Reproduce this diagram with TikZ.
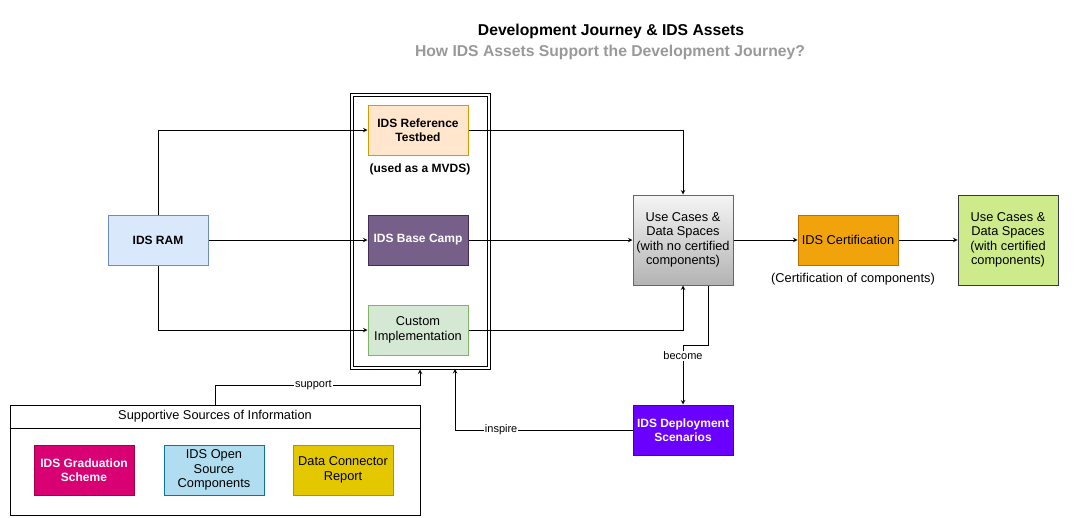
\documentclass[tikz,border=0pt]{standalone}
\usepackage{fontspec}
\setmainfont{Liberation Sans}
\usepackage{tikz}
\usepackage{xcolor}
\usetikzlibrary{positioning, arrows}

\definecolor{ramfill}{HTML}{DAE8FC}
\definecolor{ramdraw}{HTML}{6C8EBF}
\definecolor{tbfill}{HTML}{FFE6CC}
\definecolor{tbdraw}{HTML}{D79B00}
\definecolor{bcfill}{HTML}{76608A}
\definecolor{bcdraw}{HTML}{432D57}
\definecolor{cifill}{HTML}{D5E8D4}
\definecolor{cidraw}{HTML}{82B366}
\definecolor{uctop}{HTML}{F5F5F5}
\definecolor{ucbot}{HTML}{B3B3B3}
\definecolor{ucdraw}{HTML}{666666}
\definecolor{certfill}{HTML}{F0A30A}
\definecolor{certdraw}{HTML}{BD7000}
\definecolor{okfill}{HTML}{CDEB8B}
\definecolor{okdraw}{HTML}{36393D}
\definecolor{depfill}{HTML}{6A00FF}
\definecolor{depdraw}{HTML}{3700CC}
\definecolor{gradfill}{HTML}{D80073}
\definecolor{graddraw}{HTML}{A50040}
\definecolor{osfill}{HTML}{B1DDF0}
\definecolor{osdraw}{HTML}{10739E}
\definecolor{dcfill}{HTML}{E3C800}
\definecolor{dcdraw}{HTML}{B09500}
\definecolor{subgray}{HTML}{999999}

\tikzset{
    box/.style={rectangle, draw, line width=1pt, align=center, inner sep=1pt,
        minimum width=100pt, minimum height=50pt, font=\fontsize{12.8}{14.4}\selectfont},
    boldbox/.style={box, font=\fontsize{12}{14.4}\selectfont\bfseries},
    lbl/.style={fill=white, inner sep=1pt, font=\fontsize{11}{13}\selectfont},
    conn/.style={-stealth, line width=1pt}
}

\begin{document}
\begin{tikzpicture}[x=1pt, y=-1pt]
                    \useasboundingbox (0, 0) rectangle (1078, 517);

                    \node[font=\fontsize{15.7}{18}\selectfont\bfseries] (title) at (611, 31) {Development Journey \& IDS Assets};
                    \node[font=\fontsize{15.7}{18}\selectfont\bfseries, text=subgray] (subtitle) at (610, 52) {How IDS Assets Support the Development Journey?};

                    % double framed group
                    \node[draw, line width=1pt, inner sep=0pt, minimum width=140pt, minimum height=276pt] (container) at (420, 231) {};
                    \node[draw, line width=1pt, inner sep=0pt, minimum width=134pt, minimum height=270pt] (containerin) at (420, 231) {};

                    \node[boldbox, fill=ramfill, draw=ramdraw] (ram) at (158, 240) {IDS RAM};
                    \node[boldbox, fill=tbfill, draw=tbdraw] (testbed) at (418, 130) {IDS Reference\\Testbed};
                    \node[font=\fontsize{12}{14}\selectfont\bfseries] (mvds) at (420, 169) {(used as a MVDS)};
                    \node[boldbox, fill=bcfill, draw=bcdraw, text=white] (basecamp) at (418, 240) {IDS Base Camp};
                    \node[box, fill=cifill, draw=cidraw] (custom) at (418, 330) {Custom\\Implementation};
                    \node[box, top color=uctop, bottom color=ucbot, draw=ucdraw, minimum height=90pt] (usecases) at (683, 240) {Use Cases \&\\Data Spaces\\(with no certified\\components)};
                    \node[box, fill=certfill, draw=certdraw] (cert) at (848, 240) {IDS Certification};
                    \node[font=\fontsize{12.8}{14.4}\selectfont] (certnote) at (853, 279) {(Certification of components)};
                    \node[box, fill=okfill, draw=okdraw, minimum height=90pt] (certified) at (1008, 240) {Use Cases \&\\Data Spaces\\(with certified\\components)};
                    \node[boldbox, fill=depfill, draw=depdraw, text=white] (deploy) at (683, 430) {IDS Deployment\\Scenarios};

                    % supportive sources swimlane
                    \node[draw, line width=1pt, minimum width=410pt, minimum height=110pt] (sources) at (215, 460) {};
                    \node[draw, line width=1pt, minimum width=410pt, minimum height=23pt, font=\fontsize{12.8}{14.4}\selectfont] (sourcestitle) at (215, 416.5) {\raisebox{-1.5pt}{Supportive Sources of Information}};
                    \node[boldbox, fill=gradfill, draw=graddraw, text=white] (graduation) at (84, 470) {IDS Graduation\\Scheme};
                    \node[box, fill=osfill, draw=osdraw] (opensource) at (214, 470) {IDS Open\\Source\\Components};
                    \node[box, fill=dcfill, draw=dcdraw] (connector) at (343, 470) {Data Connector\\Report};

                    \coordinate (becomebend) at (683, 345);
                    \coordinate (supportbend) at (420, 385);
                    \coordinate (inspireend) at (455, 369);

                    \draw[conn] (ram.north) |- (testbed.west);
                    \draw[conn] (ram) -- (basecamp);
                    \draw[conn] (ram.south) |- (custom.west);
                    \draw[conn] (testbed.east) -| (usecases.north);
                    \draw[conn] (basecamp) -- (usecases);
                    \draw[conn] (custom.east) -| (usecases.south);
                    \draw[conn] (usecases) -- (cert);
                    \draw[conn] (cert) -- (certified);
                    \draw[conn] ([xshift=25pt]usecases.south) |- (becomebend) -- node[lbl, pos=0.18] {become} (deploy.north);
                    \draw[conn] (deploy.west) -| node[lbl, pos=0.37] {inspire} (inspireend);
                    \draw[conn] (sourcestitle.north) |- node[lbl, pos=0.74] {support} (supportbend) -- (container.south);
                \end{tikzpicture}
\end{document}
